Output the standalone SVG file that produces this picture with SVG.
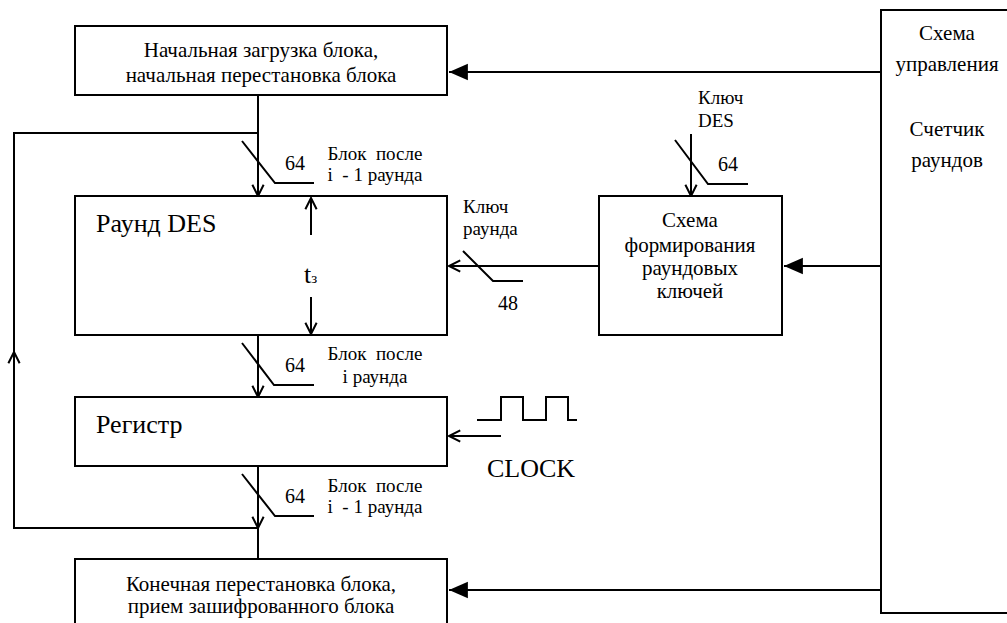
<svg xmlns="http://www.w3.org/2000/svg" width="1007" height="623" viewBox="0 0 1007 623">
<style>
  .box { fill: #fff; stroke: #000; stroke-width: 2; }
  .ln { fill: none; stroke: #000; stroke-width: 2; }
  .t20, .t21, .t19, .t26 { font-family: "Liberation Serif", "Times New Roman", serif; fill: #000; }
  .t20 { font-size: 20px; }
  .t21 { font-size: 21px; }
  .t19 { font-size: 19px; }
  .t26 { font-size: 26px; }
  .mid { text-anchor: middle; }
</style>
<defs>
  <marker id="open" markerUnits="userSpaceOnUse" markerWidth="20" markerHeight="20" viewBox="-12 -8 14 16" refX="0" refY="0" orient="auto">
    <path d="M-9,-4.5 L0,0 L-9,4.5" fill="none" stroke="#000" stroke-width="1.6"/>
  </marker>
  <marker id="fill" markerUnits="userSpaceOnUse" markerWidth="24" markerHeight="20" viewBox="-19 -9 20 18" refX="0" refY="0" orient="auto">
    <path d="M-17,-7.5 L0,0 L-17,7.5 Z" fill="#000"/>
  </marker>
</defs>
<rect width="1007" height="623" fill="#fff"/>

<g id="connectors">
  <line class="ln" x1="881" y1="72" x2="449" y2="72" marker-end="url(#fill)"/>
  <line class="ln" x1="881" y1="266" x2="784" y2="266" marker-end="url(#fill)"/>
  <line class="ln" x1="881" y1="590" x2="449" y2="590" marker-end="url(#fill)"/>
  <line class="ln" x1="258" y1="95" x2="258" y2="196" marker-end="url(#open)"/>
  <line class="ln" x1="258" y1="335" x2="258" y2="397" marker-end="url(#open)"/>
  <line class="ln" x1="258" y1="466" x2="258" y2="528" marker-end="url(#open)"/>
  <line class="ln" x1="258" y1="528" x2="258" y2="559"/>
  <polyline class="ln" points="258,528 14,528 14,352" marker-end="url(#open)"/>
  <polyline class="ln" points="14,352 14,133 258,133"/>
  <line class="ln" x1="599" y1="266" x2="449" y2="266" marker-end="url(#open)"/>
  <line class="ln" x1="691" y1="134" x2="691" y2="196" marker-end="url(#open)"/>
  <line class="ln" x1="501" y1="436" x2="449" y2="436" marker-end="url(#open)"/>
  <polyline class="ln" points="477,420 501,420 501,397 523,397 523,420 546,420 546,397 568,397 568,420 577,420"/>
  <polyline class="ln" points="242,141 275,183 314,183"/>
  <polyline class="ln" points="242,343 274,385 314,385"/>
  <polyline class="ln" points="242,474 275,516 314,516"/>
  <polyline class="ln" points="675,140 708,184 748,184"/>
  <polyline class="ln" points="463,251 493,281 523,281"/>
  <text class="t20" x="285" y="170">64</text>
  <text class="t20" x="285" y="372">64</text>
  <text class="t20" x="285" y="503">64</text>
  <text class="t20" x="718" y="171">64</text>
  <text class="t20" x="498" y="310">48</text>
  <text class="t19 mid" x="375" y="160" xml:space="preserve">Блок  после</text>
  <text class="t19 mid" x="375" y="181" xml:space="preserve">i  - 1 раунда</text>
  <text class="t19 mid" x="375" y="360" xml:space="preserve">Блок  после</text>
  <text class="t19 mid" x="375" y="383">i раунда</text>
  <text class="t19 mid" x="375" y="492" xml:space="preserve">Блок  после</text>
  <text class="t19 mid" x="375" y="513" xml:space="preserve">i  - 1 раунда</text>
  <text class="t19" x="463" y="213">Ключ</text>
  <text class="t19" x="463" y="235">раунда</text>
  <text class="t19" x="698" y="104">Ключ</text>
  <text class="t19" x="698" y="127">DES</text>
  <text class="t26" x="487" y="477">CLOCK</text>
</g>

<g id="node-init">
  <rect class="box" x="75" y="26" width="372" height="69"/>
  <text class="t21 mid" x="261" y="57">Начальная загрузка блока,</text>
  <text class="t21 mid" x="261" y="82">начальная перестановка блока</text>
</g>

<g id="node-round">
  <rect class="box" x="75" y="196" width="372" height="139"/>
  <text class="t26" x="96" y="232">Раунд DES</text>
  <line class="ln" x1="311" y1="235" x2="311" y2="198" marker-end="url(#open)"/>
  <line class="ln" x1="311" y1="297" x2="311" y2="334" marker-end="url(#open)"/>
  <text class="t26" x="304" y="283">t<tspan font-size="15">з</tspan></text>
</g>

<g id="node-register">
  <rect class="box" x="75" y="397" width="372" height="69"/>
  <text class="t26" x="96" y="433">Регистр</text>
</g>

<g id="node-final">
  <rect class="box" x="75" y="559" width="372" height="80"/>
  <text class="t21 mid" x="261" y="591">Конечная перестановка блока,</text>
  <text class="t21 mid" x="261" y="613">прием зашифрованного блока</text>
</g>

<g id="node-keygen">
  <rect class="box" x="599" y="196" width="183" height="139"/>
  <text class="t21 mid" x="690" y="227">Схема</text>
  <text class="t21 mid" x="690" y="252">формирования</text>
  <text class="t21 mid" x="690" y="275">раундовых</text>
  <text class="t21 mid" x="690" y="298">ключей</text>
</g>

<g id="node-control">
  <rect class="box" x="881" y="10" width="160" height="603"/>
  <text class="t21 mid" x="947" y="40">Схема</text>
  <text class="t21 mid" x="947" y="71">управления</text>
  <text class="t21 mid" x="947" y="136">Счетчик</text>
  <text class="t21 mid" x="947" y="167">раундов</text>
</g>
</svg>
